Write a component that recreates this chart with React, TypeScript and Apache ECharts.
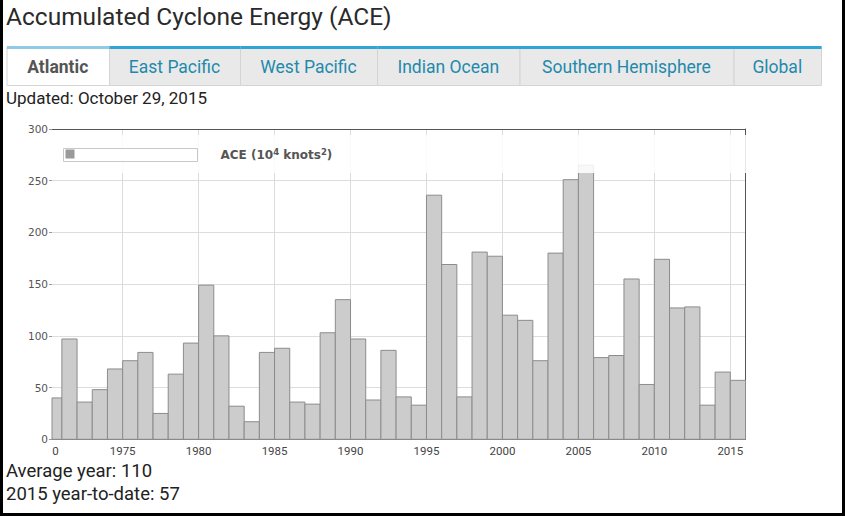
import React, { useEffect, useRef } from 'react';
import * as echarts from 'echarts';

// ---- data ----
const years = [
  1970, 1971, 1972, 1973, 1974, 1975, 1976, 1977, 1978, 1979,
  1980, 1981, 1982, 1983, 1984, 1985, 1986, 1987, 1988, 1989,
  1990, 1991, 1992, 1993, 1994, 1995, 1996, 1997, 1998, 1999,
  2000, 2001, 2002, 2003, 2004, 2005, 2006, 2007, 2008, 2009,
  2010, 2011, 2012, 2013, 2014, 2015,
];
const aceValues = [
  40, 97, 36, 48, 68, 76, 84, 25, 63, 93,
  149, 100, 32, 17, 84, 88, 36, 34, 103, 135,
  97, 38, 86, 41, 33, 236, 169, 41, 181, 177,
  120, 115, 76, 180, 251, 265, 79, 81, 155, 53,
  174, 127, 128, 33, 65, 57,
];
const xTickYears = [1975, 1980, 1985, 1990, 1995, 2000, 2005, 2010, 2015];
const clippedFirstLabel = '0'; // the "1970" label is cut off in the original, only "0" shows
const tabNames = ['Atlantic', 'East Pacific', 'West Pacific', 'Indian Ocean', 'Southern Hemisphere', 'Global'];
const seriesName = 'ACE (10⁴ knots²)';
const legendRich = 'ACE (10{sup|4} knots{sup|2})';
const titleText = 'Accumulated Cyclone Energy (ACE)';
const updatedText = 'Updated: October 29, 2015';
const averageYearText = 'Average year: 110';
const ytdText = '2015 year-to-date: 57';

// ---- layout ----
const W = 845;
const H = 516;
const tabEdges = [6.5, 109, 240, 377, 519.5, 733.5, 821];
const X_MIN = 1970.35;
const X_MAX = 2016;

export default function App() {
  const ref = useRef<HTMLDivElement>(null);

  useEffect(() => {
    if (!ref.current) return;
    const chart = echarts.init(ref.current, undefined, { renderer: 'svg', width: W, height: H });

    const tabGraphics: any[] = [];
    tabNames.forEach((name, i) => {
      const x0 = tabEdges[i];
      const x1 = tabEdges[i + 1];
      const active = i === 0;
      tabGraphics.push({
        type: 'rect',
        shape: { x: x0 + 0.5, y: 46.5, width: x1 - x0, height: 39 },
        style: { fill: active ? '#ffffff' : '#e9e9e9', stroke: '#d4d4d4', lineWidth: 1 },
        z: 20,
      });
      tabGraphics.push({
        type: 'rect',
        shape: { x: x0 + 0.5, y: 46, width: x1 - x0, height: 3 },
        style: { fill: active ? '#8fcbe5' : '#2ea5d6' },
        z: 21,
      });
      tabGraphics.push({
        type: 'text',
        x: (x0 + x1) / 2,
        y: 66.5,
        style: {
          text: name,
          fill: active ? '#555555' : '#1f89ad',
          fontFamily: 'Roboto',
          fontSize: 17.5,
          fontWeight: active ? 'bold' : 'normal',
          align: 'center',
          verticalAlign: 'middle',
        },
        z: 22,
      });
    });

    const option: any = {
      animation: false,
      backgroundColor: '#ffffff',
      textStyle: { fontFamily: 'Roboto' },
      title: {
        text: titleText,
        left: 6,
        top: 4,
        padding: 0,
        textStyle: { fontFamily: 'Roboto', fontSize: 24.5, fontWeight: 'normal', color: '#2a2a2a' },
      },
      legend: {
        data: [seriesName],
        left: 63,
        top: 147.5,
        padding: 0,
        icon: 'rect',
        itemWidth: 134,
        itemHeight: 13,
        selectedMode: false,
        formatter: () => legendRich,
        itemStyle: { color: '#ffffff', borderColor: '#c8c8c8', borderWidth: 1 },
        textStyle: {
          fontFamily: 'DejaVu Sans',
          fontSize: 12,
          fontWeight: 'bold',
          color: '#555555',
          padding: [0, 0, 0, 18],
          lineHeight: 15,
          rich: {
            sup: {
              fontFamily: 'DejaVu Sans',
              fontSize: 8.5,
              fontWeight: 'bold',
              color: '#555555',
              verticalAlign: 'top',
              lineHeight: 15,
              padding: [0, 0, 6, 0],
            },
          },
        },
      },
      grid: { left: 52, right: W - 745.5, top: 129, bottom: H - 439.3, containLabel: false },
      xAxis: [
        {
          type: 'value',
          min: X_MIN,
          max: X_MAX,
          position: 'bottom',
          axisLine: { show: true, onZero: false, lineStyle: { color: '#666666' } },
          axisTick: { show: false, customValues: xTickYears },
          axisLabel: {
            customValues: [1970.58, ...xTickYears],
            formatter: (v: number) => (v < 1971 ? clippedFirstLabel : String(Math.round(v))),
            color: '#444444',
            fontFamily: 'Roboto',
            fontSize: 11.5,
            margin: 6,
          },
          splitLine: { show: true, lineStyle: { color: '#dcdcdc' } },
        },
        {
          type: 'value',
          min: X_MIN,
          max: X_MAX,
          position: 'top',
          axisLine: { show: true, onZero: false, lineStyle: { color: '#555555' } },
          axisTick: { show: false },
          axisLabel: { show: false },
          splitLine: { show: false },
        },
      ],
      yAxis: [
        {
          type: 'value',
          min: 0,
          max: 300,
          interval: 50,
          axisLine: { show: false },
          axisTick: { show: true, length: 3, lineStyle: { color: '#999999' } },
          axisLabel: { color: '#555555', fontFamily: 'DejaVu Sans', fontSize: 10.5, margin: 4 },
          splitLine: { show: true, lineStyle: { color: '#dddddd' } },
        },
        {
          type: 'value',
          min: 0,
          max: 300,
          position: 'right',
          axisLine: { show: true, onZero: false, lineStyle: { color: '#555555' } },
          axisTick: { show: false },
          axisLabel: { show: false },
          splitLine: { show: false },
        },
      ],
      series: [
        {
          type: 'custom',
          name: seriesName,
          xAxisIndex: 0,
          yAxisIndex: 0,
          data: years.map((y, i) => [y, aceValues[i]]),
          encode: { x: 0, y: 1 },
          z: 2,
          itemStyle: { color: '#cccccc', borderColor: '#8c8c8c', borderWidth: 1 },
          renderItem: (params: any, api: any) => {
            const year = api.value(0);
            const v = api.value(1);
            const p0 = api.coord([year, 0]);
            const p1 = api.coord([year + 1, v]);
            const cs = params.coordSys;
            const rect = echarts.graphic.clipRectByRect(
              { x: p0[0], y: p1[1], width: p1[0] - p0[0], height: p0[1] - p1[1] },
              { x: cs.x, y: cs.y, width: cs.width, height: cs.height }
            );
            if (!rect) return null;
            return {
              type: 'rect',
              shape: rect,
              style: { fill: '#cccccc', stroke: '#8c8c8c', lineWidth: 1 },
            };
          },
        },
      ],
      graphic: {
        elements: [
          // semi-opaque legend background over the plot
          {
            type: 'rect',
            shape: { x: 52, y: 135, width: 695, height: 38 },
            style: { fill: 'rgba(255,255,255,0.86)' },
            z: 3,
          },
          // small swatch inside legend box
          {
            type: 'rect',
            shape: { x: 65.5, y: 149.5, width: 9, height: 9 },
            style: { fill: '#9a9a9a' },
            z: 10,
          },
          ...tabGraphics,
          {
            type: 'text',
            x: 6,
            y: 97.5,
            style: { text: updatedText, fill: '#222222', fontFamily: 'Roboto', fontSize: 17, verticalAlign: 'middle' },
            z: 20,
          },
          {
            type: 'text',
            x: 6,
            y: 471,
            style: { text: averageYearText, fill: '#222222', fontFamily: 'Roboto', fontSize: 18.5, verticalAlign: 'middle' },
            z: 20,
          },
          {
            type: 'text',
            x: 6,
            y: 494,
            style: { text: ytdText, fill: '#222222', fontFamily: 'Roboto', fontSize: 18.5, verticalAlign: 'middle' },
            z: 20,
          },
          // black page frame (left, right, bottom)
          { type: 'rect', shape: { x: 0, y: 0, width: 3, height: H }, style: { fill: '#000000' }, z: 100 },
          { type: 'rect', shape: { x: 842, y: 0, width: 3, height: H }, style: { fill: '#000000' }, z: 100 },
          { type: 'rect', shape: { x: 0, y: 513, width: W, height: 3 }, style: { fill: '#000000' }, z: 100 },
        ],
      },
    };

    chart.setOption(option);
    return () => {
      chart.dispose();
    };
  }, []);

  return (
    <div
      ref={ref}
      style={{ position: 'absolute', left: 0, top: 0, width: W, height: H, background: '#fff' }}
    />
  );
}
